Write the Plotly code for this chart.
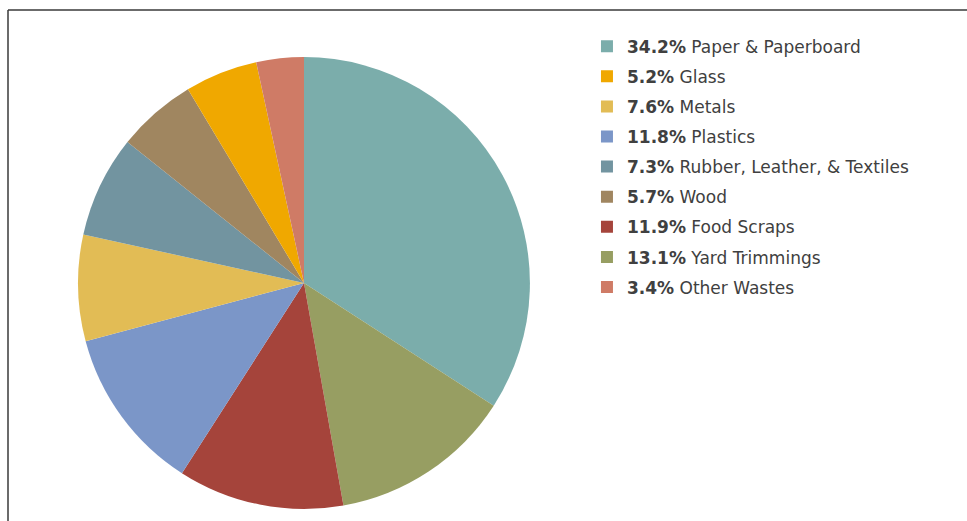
import plotly.graph_objects as go

# Legend order
legend_labels = ["Paper & Paperboard", "Glass", "Metals", "Plastics",
                 "Rubber, Leather, & Textiles", "Wood", "Food Scraps",
                 "Yard Trimmings", "Other Wastes"]
legend_values = [34.2, 5.2, 7.6, 11.8, 7.3, 5.7, 11.9, 13.1, 3.4]
colors = {
    "Paper & Paperboard": "#7BADAB",
    "Glass": "#F0A800",
    "Metals": "#E2BC55",
    "Plastics": "#7B96C8",
    "Rubber, Leather, & Textiles": "#7294A0",
    "Wood": "#A08660",
    "Food Scraps": "#A5443B",
    "Yard Trimmings": "#979E62",
    "Other Wastes": "#CF7B66",
}
# Slice order, clockwise from 12 o'clock
slice_order = ["Paper & Paperboard", "Yard Trimmings", "Food Scraps", "Plastics",
               "Metals", "Rubber, Leather, & Textiles", "Wood", "Glass", "Other Wastes"]

val = dict(zip(legend_labels, legend_values))

fig = go.Figure()
fig.add_trace(go.Pie(
    labels=slice_order,
    values=[val[l] for l in slice_order],
    marker=dict(colors=[colors[l] for l in slice_order], line=dict(width=0)),
    sort=False, direction="clockwise", rotation=0,
    textinfo="none", hoverinfo="label+percent",
    showlegend=False,
    domain=dict(x=[0.0807, 0.548], y=[0.023, 0.8906]),
))

for i, l in enumerate(legend_labels):
    fig.add_trace(go.Scatter(
        x=[None], y=[None], mode="markers",
        marker=dict(symbol="square", size=13, color=colors[l]),
        name=f"<b>{val[l]:.1f}%</b> {l}",
        legendgroup=f"g{i}",
    ))

fig.update_layout(
    width=967, height=521,
    margin=dict(l=0, r=0, t=0, b=0),
    paper_bgcolor="white", plot_bgcolor="white",
    xaxis=dict(visible=False), yaxis=dict(visible=False),
    font=dict(family="DejaVu Sans", size=17, color="#404040"),
    legend=dict(x=0.607, y=0.945, xanchor="left", yanchor="top",
                tracegroupgap=5, itemsizing="constant",
                font=dict(family="DejaVu Sans", size=17, color="#404040")),
    shapes=[
        dict(type="line", xref="paper", yref="paper", x0=8/967, x1=1, y0=1-10/521, y1=1-10/521,
             line=dict(color="#3a3a3a", width=1.5)),
        dict(type="line", xref="paper", yref="paper", x0=8/967, x1=8/967, y0=0, y1=1-10/521,
             line=dict(color="#3a3a3a", width=1.5)),
    ],
)

fig.write_html("out.html")
